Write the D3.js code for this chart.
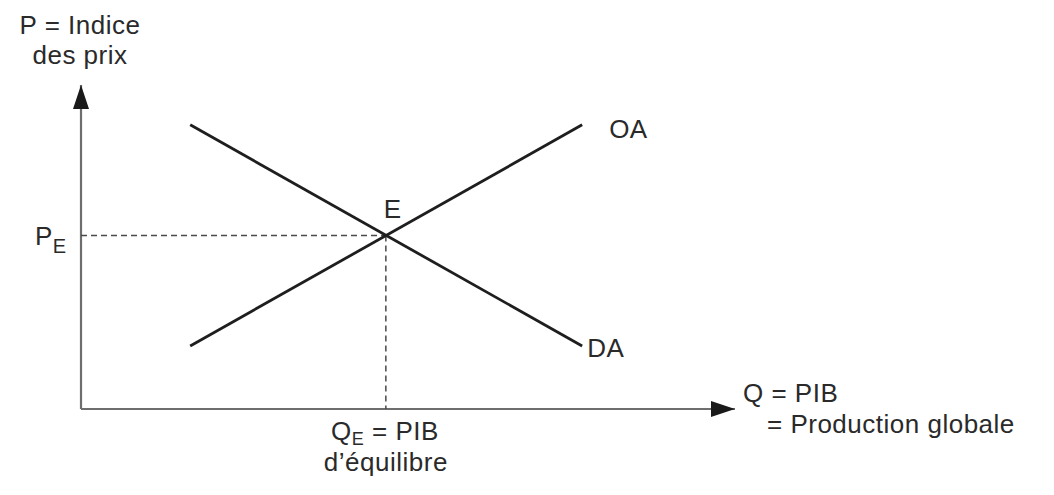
<!DOCTYPE html>
<html><head><meta charset="utf-8">
<script src="https://cdn.jsdelivr.net/npm/d3@7"></script>
<style>
html,body{margin:0;padding:0;background:#fff;}
svg text{font-family:"Liberation Sans",Arial,Helvetica,sans-serif;fill:#2a2a2a;letter-spacing:0.5px;}
</style></head>
<body>
<svg id="c" width="1054" height="495"></svg>
<script>
// Data (abstract units)
const qRange = [0, 10];          // quantity axis domain
const pRange = [0, 10];          // price axis domain
const curveNames = ["OA", "DA"];
const oaPoints = [[1.68, 1.97], [7.71, 8.88]];   // offre agrégée
const daPoints = [[1.68, 8.88], [7.71, 1.97]];   // demande agrégée
const equilibrium = {q: 4.69, p: 5.42, label: "E"};
const axisLabels = {
  y: ["P = Indice", "des prix"],
  x: ["Q = PIB", "= Production globale"]
};

const svg = d3.select("#c");
const x = d3.scaleLinear().domain(qRange).range([81, 731]);
const y = d3.scaleLinear().domain(pRange).range([409, 89]);

const axisColor = "#6e6e6e";
const lineColor = "#1e1e1e";

// arrow markers
const defs = svg.append("defs");
defs.append("marker").attr("id","arr").attr("viewBox","0 0 24 16")
  .attr("refX",24).attr("refY",8).attr("markerWidth",24).attr("markerHeight",16)
  .attr("markerUnits","userSpaceOnUse").attr("orient","auto")
  .append("path").attr("d","M0,0 L24,8 L0,16 Z").attr("fill","#1a1a1a");

// axes
svg.append("line").attr("x1",x(0)).attr("y1",y(0)).attr("x2",x(0)).attr("y2",y(0)-324)
  .attr("stroke",axisColor).attr("stroke-width",2.2).attr("marker-end","url(#arr)");
svg.append("line").attr("x1",x(0)).attr("y1",y(0)).attr("x2",x(0)+654).attr("y2",y(0))
  .attr("stroke",axisColor).attr("stroke-width",2.2).attr("marker-end","url(#arr)");

// dashed guides
const dash = "6,4";
svg.append("line").attr("x1",x(0)).attr("x2",x(equilibrium.q))
  .attr("y1",y(equilibrium.p)).attr("y2",y(equilibrium.p))
  .attr("stroke","#4a4a4a").attr("stroke-width",1.5).attr("stroke-dasharray",dash);
svg.append("line").attr("x1",x(equilibrium.q)).attr("x2",x(equilibrium.q))
  .attr("y1",y(equilibrium.p)).attr("y2",y(0))
  .attr("stroke","#4a4a4a").attr("stroke-width",1.5).attr("stroke-dasharray",dash);

// curves
const line = d3.line().x(d=>x(d[0])).y(d=>y(d[1]));
[oaPoints, daPoints].forEach(pts=>{
  svg.append("path").attr("d",line(pts)).attr("fill","none")
    .attr("stroke",lineColor).attr("stroke-width",2.8);
});

const fs = 26;
// curve labels
svg.append("text").attr("x",x(oaPoints[1][0])+27).attr("y",y(oaPoints[1][1])+13)
  .attr("font-size",fs).text(curveNames[0]);
svg.append("text").attr("x",x(daPoints[1][0])+5).attr("y",y(daPoints[1][1])+11)
  .attr("font-size",fs).text(curveNames[1]);
svg.append("text").attr("x",x(equilibrium.q)-2).attr("y",y(equilibrium.p)-18)
  .attr("font-size",fs).text(equilibrium.label);

// y axis label
svg.append("text").attr("font-size",fs).attr("text-anchor","middle")
  .attr("x",80).attr("y",34).text(axisLabels.y[0]);
svg.append("text").attr("font-size",fs).attr("text-anchor","middle")
  .attr("x",80).attr("y",64).text(axisLabels.y[1]);

// P_E
const pe = svg.append("text").attr("x",35).attr("y",y(equilibrium.p)+9).attr("font-size",fs);
pe.append("tspan").text("P");
pe.append("tspan").attr("dy",8).attr("font-size",20).text("E");

// Q_E label
const qe = svg.append("text").attr("font-size",fs).attr("x",331).attr("y",440);
qe.append("tspan").text("Q");
qe.append("tspan").attr("dy",5).attr("font-size",18).text("E");
qe.append("tspan").attr("dy",-5).text(" = PIB");
svg.append("text").attr("font-size",fs).attr("x",x(equilibrium.q)).attr("y",471)
  .attr("text-anchor","middle").text("d’équilibre");

// x axis label
svg.append("text").attr("font-size",fs).attr("x",743).attr("y",402).text(axisLabels.x[0]);
svg.append("text").attr("font-size",fs).attr("x",767).attr("y",433).text(axisLabels.x[1]);
</script>
</body></html>
